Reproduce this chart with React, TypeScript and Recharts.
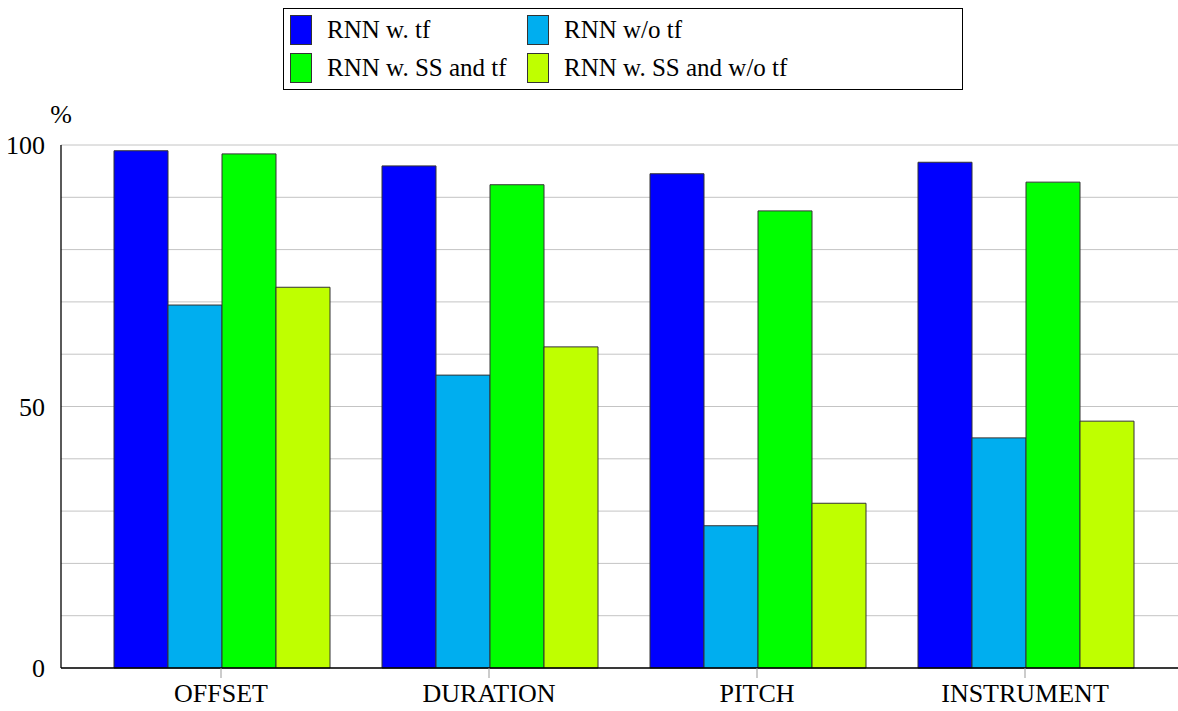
import { BarChart, Bar, XAxis, YAxis, CartesianGrid, Legend } from "recharts";

const categories = ["OFFSET", "DURATION", "PITCH", "INSTRUMENT"];
const rnnTf = [98.9, 96.0, 94.5, 96.7];
const rnnNoTf = [69.4, 56.0, 27.2, 44.0];
const ssTf = [98.3, 92.4, 87.4, 92.9];
const ssNoTf = [72.8, 61.4, 31.5, 47.2];
const yTicks = [0, 10, 20, 30, 40, 50, 60, 70, 80, 90, 100];
const yLabels = [0, 50, 100];

const series = [
  { key: "rnnTf", name: "RNN w. tf", color: "#0000FF" },
  { key: "rnnNoTf", name: "RNN w/o tf", color: "#00AEEF" },
  { key: "ssTf", name: "RNN w. SS and tf", color: "#00FF00" },
  { key: "ssNoTf", name: "RNN w. SS and w/o tf", color: "#BFFF00" },
];

const data = categories.map((name, i) => ({
  name,
  rnnTf: rnnTf[i],
  rnnNoTf: rnnNoTf[i],
  ssTf: ssTf[i],
  ssNoTf: ssNoTf[i],
}));

const FONT = "'Liberation Serif', 'DejaVu Serif', serif";

const LegendBox = () => (
  <div
    style={{
      border: "1px solid #000",
      background: "#fff",
      display: "grid",
      gridTemplateColumns: "237px 400px",
      rowGap: 8,
      padding: "6px 0 6px 6px",
      fontFamily: FONT,
      fontSize: 25,
      color: "#000",
      whiteSpace: "nowrap",
    }}
  >
    {series.map((s) => (
      <div key={s.key} style={{ display: "flex", alignItems: "center", height: 30 }}>
        <span
          style={{
            display: "inline-block",
            width: 20,
            height: 28,
            background: s.color,
            border: "1px solid #333",
            marginRight: 15,
            flexShrink: 0,
          }}
        />
        <span>{s.name}</span>
      </div>
    ))}
  </div>
);

export default function App() {
  return (
    <div style={{ position: "absolute", left: 0, top: 0 }}>
      <BarChart
        width={1178}
        height={711}
        data={data}
        margin={{ top: 145, right: 0, left: 0, bottom: 0 }}
        barCategoryGap={27}
        barGap={0}
      >
        <CartesianGrid vertical={false} stroke="#c4c4c4" />
        <XAxis
          dataKey="name"
          padding={{ left: 26, right: 19 }}
          height={43}
          axisLine={{ stroke: "#000", strokeWidth: 1.3 }}
          tickLine={{ stroke: "#999" }}
          tickSize={10}
          tickMargin={6}
          tick={{ fill: "#000", fontFamily: FONT, fontSize: 26 }}
        />
        <XAxis
          xAxisId="top"
          orientation="top"
          dataKey="name"
          padding={{ left: 26, right: 19 }}
          height={0}
          axisLine={{ stroke: "#000", strokeWidth: 1.3 }}
          tickLine={{ stroke: "#999" }}
          tickSize={10}
          tickFormatter={() => ""}
        />
        <YAxis
          width={61}
          domain={[0, 100]}
          ticks={yTicks}
          interval={0}
          axisLine={{ stroke: "#000", strokeWidth: 1.3 }}
          tickLine={false}
          tickMargin={10}
          tickFormatter={(v: number) => (yLabels.includes(v) ? String(v) : "")}
          tick={{ fill: "#000", fontFamily: FONT, fontSize: 26 }}
          label={{
            content: ({ viewBox }: any) => (
              <text
                x={viewBox.x + viewBox.width}
                y={viewBox.y - 22}
                textAnchor="middle"
                fontFamily={FONT}
                fontSize={26}
                fill="#000"
              >
                %
              </text>
            ),
          }}
        />
        <Legend
          layout="vertical"
          align="center"
          verticalAlign="middle"
          wrapperStyle={{ top: 8, left: 283, width: 680 }}
          content={<LegendBox />}
        />
        {series.map((s) => (
          <Bar
            key={s.key}
            dataKey={s.key}
            name={s.name}
            fill={s.color}
            stroke="#333"
            strokeWidth={1}
            isAnimationActive={false}
          />
        ))}
      </BarChart>
    </div>
  );
}
